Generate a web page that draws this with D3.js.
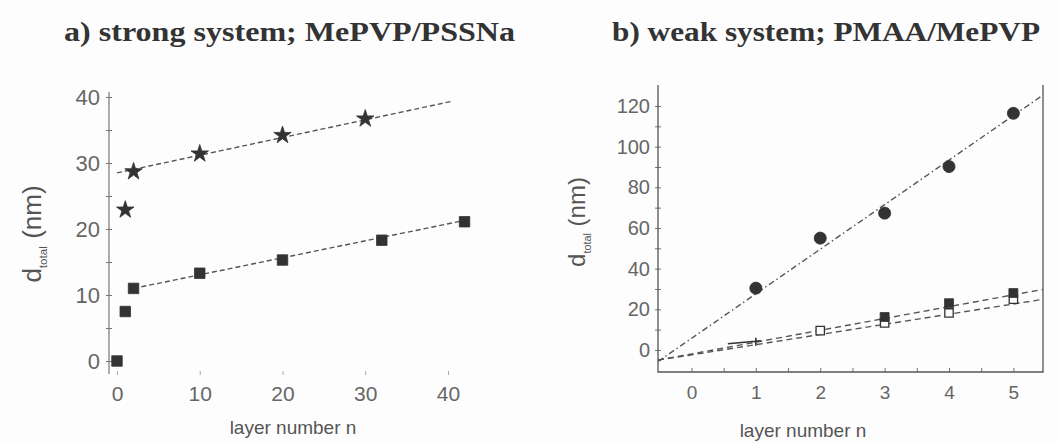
<!DOCTYPE html>
<html>
<head>
<meta charset="utf-8">
<script src="https://cdn.jsdelivr.net/npm/d3@7"></script>
<style>
  body { margin: 0; background: #fdfdfd; }
  svg { display: block; }
  .title { font-family: "Liberation Serif", serif; font-weight: bold; fill: #333; }
  .tick-label { font-family: "Liberation Sans", sans-serif; fill: #666; }
  .axis-title { font-family: "Liberation Sans", sans-serif; fill: #555; }
</style>
</head>
<body>
<div id="chart"></div>
<script>
// panel a) strong system
const aSquareN = [0, 1, 2, 10, 20, 32, 42]
const aSquareD = [0, 7.5, 11, 13.3, 15.3, 18.3, 21.1]
const aStarN = [1, 2, 10, 20, 30]
const aStarD = [22.9, 28.7, 31.4, 34.2, 36.7]
// fitted lines, [n0, d0, n1, d1]
const aStarFit = [0, 28.5, 40.3, 39.3]
const aSquareFit = [2, 11, 42, 21.3]
const aTicksX = [0, 10, 20, 30, 40]
const aTicksY = [0, 10, 20, 30, 40]

// panel b) weak system
const bCircleN = [1, 2, 3, 4, 5]
const bCircleD = [30.4, 55, 67.3, 90.2, 116.4]
const bFilledN = [3, 4, 5]
const bFilledD = [16.2, 23, 28]
const bOpenN = [2, 3, 4, 5]
const bOpenD = [9.5, 13.3, 18.2, 25]
const bPlusN = [1]
const bPlusD = [4]
const bCircleFit = [-0.52, -5.7, 5.46, 125.4]
const bFilledFit = [-0.52, -5, 5.46, 29.8]
const bOpenFit = [-0.52, -5, 5.46, 24.9]
const bTicksX = [0, 1, 2, 3, 4, 5]
const bTicksY = [0, 20, 40, 60, 80, 100, 120]

const width = 1060, height = 443
const ink = "#333", axisColor = "#777"

const svg = d3.select("#chart").append("svg")
    .attr("width", width)
    .attr("height", height)

// titles
svg.append("text").attr("class", "title")
    .attr("x", 64).attr("y", 41)
    .attr("font-size", 27)
    .attr("textLength", 451).attr("lengthAdjust", "spacingAndGlyphs")
    .text("a) strong system; MePVP/PSSNa")
svg.append("text").attr("class", "title")
    .attr("x", 612).attr("y", 41)
    .attr("font-size", 27)
    .attr("textLength", 428).attr("lengthAdjust", "spacingAndGlyphs")
    .text("b) weak system; PMAA/MePVP")

function zip(ns, ds) { return ns.map((n, i) => ({ n: n, d: ds[i] })) }

function yLabel(g, x, y, size) {
    const t = g.append("text").attr("class", "axis-title")
        .attr("transform", "translate(" + x + "," + y + ") rotate(-90)")
        .attr("text-anchor", "middle")
        .attr("font-size", size)
    t.append("tspan").text("d")
    t.append("tspan").attr("font-size", size * 0.45).attr("dy", 6).text("total")
    t.append("tspan").attr("dy", -6).text(" (nm)")
}

function fitLine(g, x, y, f, dash) {
    g.append("line")
        .attr("x1", x(f[0])).attr("y1", y(f[1]))
        .attr("x2", x(f[2])).attr("y2", y(f[3]))
        .attr("stroke", "#555").attr("stroke-width", 1.4)
        .attr("stroke-dasharray", dash)
}

function markers(g, x, y, data, type, size, fill) {
    g.selectAll(null).data(data).enter().append("path")
        .attr("d", d3.symbol().type(type).size(size))
        .attr("transform", d => "translate(" + x(d.n) + "," + y(d.d) + ")")
        .attr("fill", fill)
        .attr("stroke", ink)
        .attr("stroke-width", fill === "#fdfdfd" ? 1.3 : 0.8)
}

// ---------- panel a ----------
const ax = d3.scaleLinear().domain([0, 40]).range([117, 448])
const ay = d3.scaleLinear().domain([0, 40]).range([361, 97])
const ga = svg.append("g")

// y axis (line + ticks, labels at the left)
const ayAxis = d3.axisLeft(ay).tickValues(d3.range(0, 41, 5)).tickSize(3)
    .tickFormat(d => aTicksY.includes(d) ? d : "")
ga.append("g").attr("transform", "translate(109,0)").call(ayAxis)
    .call(g => g.select(".domain").remove())
    .call(g => g.selectAll(".tick line").attr("stroke", axisColor).attr("x2", 3).attr("x1", -3))
    .call(g => g.selectAll(".tick text").attr("class", "tick-label").attr("font-size", 22).attr("x", -9))
ga.append("line").attr("x1", 109).attr("x2", 109).attr("y1", 92).attr("y2", 374)
    .attr("stroke", axisColor).attr("stroke-width", 1.2)

// x axis: ticks only, no line
const axAxis = d3.axisBottom(ax).tickValues(aTicksX).tickSize(4)
ga.append("g").attr("transform", "translate(0,371)").call(axAxis)
    .call(g => g.select(".domain").remove())
    .call(g => g.selectAll(".tick line").attr("stroke", "#aaa"))
    .call(g => g.selectAll(".tick text").attr("class", "tick-label").attr("font-size", 21).attr("y", 15))

ga.append("text").attr("class", "axis-title")
    .attr("x", 293).attr("y", 434).attr("text-anchor", "middle")
    .attr("font-size", 19).text("layer number n")
yLabel(ga, 41, 234, 26)

fitLine(ga, ax, ay, aStarFit, "5,3")
fitLine(ga, ax, ay, aSquareFit, "5,3")
markers(ga, ax, ay, zip(aSquareN, aSquareD), d3.symbolSquare, 110, ink)
markers(ga, ax, ay, zip(aStarN, aStarD), d3.symbolStar, 95, ink)

// ---------- panel b ----------
const bx = d3.scaleLinear().domain([-0.52, 5.46]).range([658, 1043])
const by = d3.scaleLinear().domain([-10.6, 129]).range([371.5, 87.7])
const gb = svg.append("g")

const byAxis = d3.axisLeft(by).tickValues(d3.range(0, 121, 10)).tickSize(3)
    .tickFormat(d => bTicksY.includes(d) ? d : "")
gb.append("g").attr("transform", "translate(658,0)").call(byAxis)
    .call(g => g.select(".domain").remove())
    .call(g => g.selectAll(".tick line").attr("stroke", axisColor).attr("x1", -3).attr("x2", 3))
    .call(g => g.selectAll(".tick text").attr("class", "tick-label").attr("font-size", 20).attr("x", -8))

const bxAxis = d3.axisBottom(bx).tickValues(d3.range(0, 5.01, 0.5)).tickSize(4)
    .tickFormat(d => bTicksX.includes(d) ? d : "")
gb.append("g").attr("transform", "translate(0,372)").call(bxAxis)
    .call(g => g.select(".domain").remove())
    .call(g => g.selectAll(".tick line").attr("stroke", axisColor).attr("y1", -4).attr("y2", 0))
    .call(g => g.selectAll(".tick text").attr("class", "tick-label").attr("font-size", 19).attr("y", 14))

// frame: left, bottom, right
gb.append("path")
    .attr("d", "M658,85V372H1043V85")
    .attr("fill", "none").attr("stroke", "#555").attr("stroke-width", 1.3)

gb.append("text").attr("class", "axis-title")
    .attr("x", 803).attr("y", 437).attr("text-anchor", "middle")
    .attr("font-size", 19).text("layer number n")
yLabel(gb, 585, 222, 24)

fitLine(gb, bx, by, bCircleFit, "6,3,1.5,3")
fitLine(gb, bx, by, bFilledFit, "6,4")
fitLine(gb, bx, by, bOpenFit, "6,4")

markers(gb, bx, by, zip(bCircleN, bCircleD), d3.symbolCircle, 115, ink)
markers(gb, bx, by, zip(bOpenN, bOpenD), d3.symbolSquare, 70, "#fdfdfd")
markers(gb, bx, by, zip(bFilledN, bFilledD), d3.symbolSquare, 80, ink)
// short solid segment with a cross tick at n = 1
gb.selectAll(null).data(zip(bPlusN, bPlusD)).enter().append("path")
    .attr("d", "M-28,2L5,-1M0,-4V4")
    .attr("transform", d => "translate(" + bx(d.n) + "," + by(d.d) + ")")
    .attr("stroke", ink).attr("stroke-width", 1.6).attr("fill", "none")
</script>
</body>
</html>
